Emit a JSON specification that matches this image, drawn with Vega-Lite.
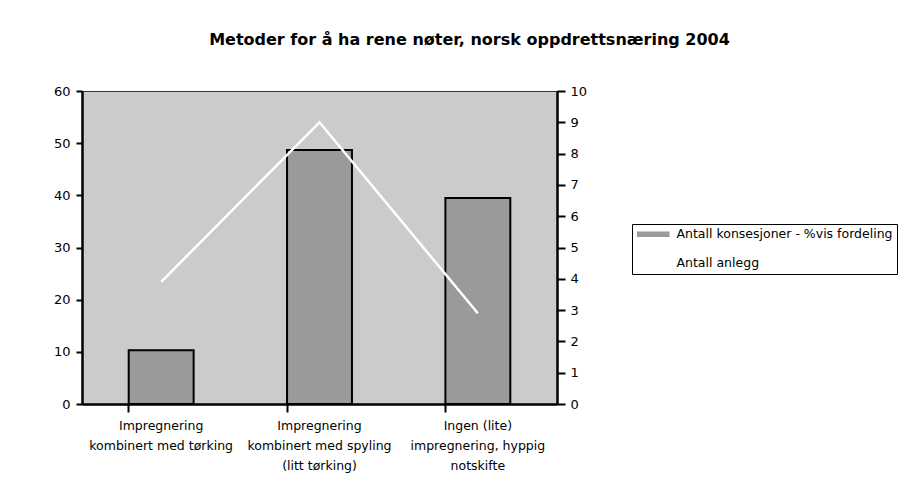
{
  "$schema": "https://vega.github.io/schema/vega-lite/v6.json",
  "width": 475,
  "height": 313,
  "autosize": {"type": "none"},
  "padding": {"left": 82, "top": 91, "right": 356, "bottom": 82},
  "background": "white",
  "title": {
    "text": "Metoder for å ha rene nøter, norsk oppdrettsnæring 2004",
    "font": "DejaVu Sans",
    "fontSize": 16,
    "fontWeight": "bold",
    "color": "black",
    "anchor": "middle",
    "dx": 150,
    "baseline": "alphabetic",
    "offset": 24
  },
  "data": {
    "values": [
      {"metode": "Impregnering|kombinert med tørking", "serie": "Antall konsesjoner - %vis fordeling", "verdi": 10.3},
      {"metode": "Impregnering|kombinert med spyling|(litt tørking)", "serie": "Antall konsesjoner - %vis fordeling", "verdi": 48.7},
      {"metode": "Ingen (lite)|impregnering, hyppig|notskifte", "serie": "Antall konsesjoner - %vis fordeling", "verdi": 39.5},
      {"metode": "Impregnering|kombinert med tørking", "serie": "Antall anlegg", "verdi": 3.9},
      {"metode": "Impregnering|kombinert med spyling|(litt tørking)", "serie": "Antall anlegg", "verdi": 9},
      {"metode": "Ingen (lite)|impregnering, hyppig|notskifte", "serie": "Antall anlegg", "verdi": 2.9}
    ]
  },
  "config": {
    "font": "DejaVu Sans",
    "view": {"fill": "#cbcbcb", "stroke": "#333333", "strokeWidth": 1},
    "axis": {
      "domainColor": "black",
      "domainWidth": 2.5,
      "tickColor": "black",
      "tickWidth": 2,
      "labelColor": "black",
      "labelFont": "DejaVu Sans",
      "grid": false,
      "title": null
    },
    "legend": {"strokeColor": "black", "symbolStrokeWidth": 1.5, "symbolStrokeColor": "black"}
  },
  "encoding": {
    "x": {
      "field": "metode",
      "type": "nominal",
      "sort": null,
      "scale": {"paddingInner": 0.59, "paddingOuter": 0.295},
      "axis": {
        "bandPosition": 0,
        "labelExpr": "split(datum.label, '|')",
        "labelAngle": 0,
        "labelFontSize": 12.5,
        "labelLineHeight": 20,
        "labelBaseline": "top",
        "labelPadding": 7,
        "labelLimit": 300,
        "tickSize": 8
      }
    },
    "color": {
      "field": "serie",
      "type": "nominal",
      "scale": {
        "domain": ["Antall konsesjoner - %vis fordeling", "Antall anlegg"],
        "range": ["#9a9a9a", "white"]
      },
      "legend": {
        "orient": "none",
        "legendX": 550,
        "legendY": 133,
        "title": null,
        "padding": 4,
        "symbolType": "M-3,-0.4L3,-0.4L3,0.4L-3,0.4Z",
        "symbolSize": 107,
        "symbolOffset": 11,
        "labelOffset": 17,
        "rowPadding": 15.5,
        "labelLimit": 400,
        "labelFont": "DejaVu Sans",
        "labelFontSize": 12.5,
        "labelColor": "black",
        "encode": {
          "symbols": {
            "update": {
              "fill": {"signal": "datum.value === 'Antall anlegg' ? 'white' : '#9a9a9a'"},
              "stroke": {"signal": "datum.value === 'Antall anlegg' ? 'white' : 'black'"},
              "opacity": {"value": 1}
            }
          }
        }
      }
    }
  },
  "layer": [
    {
      "transform": [{"filter": "datum.serie == 'Antall konsesjoner - %vis fordeling'"}],
      "mark": {"type": "bar", "stroke": "black", "strokeWidth": 2},
      "encoding": {
        "y": {
          "field": "verdi",
          "type": "quantitative",
          "scale": {"domain": [0, 60]},
          "axis": {
            "orient": "left",
            "values": [0, 10, 20, 30, 40, 50, 60],
            "labelFontSize": 13,
            "tickSize": 6,
            "labelPadding": 6
          }
        }
      }
    },
    {
      "transform": [{"filter": "datum.serie == 'Antall anlegg'"}],
      "mark": {"type": "line", "strokeWidth": 2.5},
      "encoding": {
        "y": {
          "field": "verdi",
          "type": "quantitative",
          "scale": {"domain": [0, 10]},
          "axis": {
            "orient": "right",
            "values": [0, 1, 2, 3, 4, 5, 6, 7, 8, 9, 10],
            "labelFontSize": 13,
            "tickSize": 8,
            "labelPadding": 5
          }
        }
      }
    }
  ],
  "resolve": {"scale": {"y": "independent"}}
}
